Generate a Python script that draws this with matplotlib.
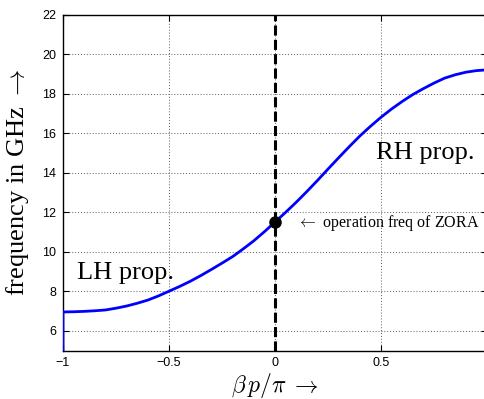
import numpy as np
import matplotlib
matplotlib.use("Agg")
import matplotlib.pyplot as plt

plt.rcParams["mathtext.fontset"] = "cm"

# dispersion curve
beta_p = [-1.0, -0.95, -0.9, -0.85, -0.8, -0.75, -0.7, -0.65, -0.6, -0.55,
          -0.5, -0.45, -0.4, -0.35, -0.3, -0.25, -0.2, -0.15, -0.1, -0.05,
          0.0, 0.05, 0.1, 0.15, 0.2, 0.25, 0.3, 0.35, 0.4, 0.45,
          0.5, 0.55, 0.6, 0.65, 0.7, 0.75, 0.8, 0.85, 0.9, 0.95, 1.0]
freq = [6.95, 6.96, 6.98, 7.01, 7.05, 7.14, 7.25, 7.39, 7.55, 7.76,
        8.0, 8.24, 8.5, 8.79, 9.1, 9.42, 9.75, 10.14, 10.55, 11.01,
        11.5, 11.99, 12.5, 13.04, 13.6, 14.18, 14.75, 15.31, 15.85, 16.34,
        16.8, 17.22, 17.6, 17.95, 18.25, 18.53, 18.78, 18.95, 19.08, 19.16, 19.2]
zora_x = 0.0
zora_f = 11.5
xticks = [-1, -0.5, 0, 0.5]
xticklabels = ["\u22121", "\u22120.5", "0", "0.5"]
yticks = [6, 8, 10, 12, 14, 16, 18, 20, 22]

fig = plt.figure(figsize=(4.84, 3.99), dpi=100)
ax = fig.add_axes([63 / 484, 48.5 / 399, 424 / 484, 336 / 399])

# curve plus the vertical part at the left border
ax.plot([beta_p[0]] + beta_p, [5] + freq, color=(0, 0, 1), linewidth=2.0, zorder=3)
ax.axvline(zora_x, color="black", linewidth=2.2, dashes=(3.3, 1.4), zorder=2)
ax.plot(zora_x, zora_f, "o", color="black", markersize=8, zorder=4)

ax.set_xlim(-1, 1)
ax.set_ylim(5, 22)
ax.set_xticks(xticks)
ax.set_xticklabels(xticklabels)
ax.set_yticks(yticks)
ax.tick_params(direction="in", length=4, width=0.8, top=True, right=True,
               labelsize=9, pad=5)
for lab in ax.get_xticklabels() + ax.get_yticklabels():
    lab.set_family("Liberation Sans")
ax.grid(True, color="0.35", linestyle=(0, (1, 2)), linewidth=0.7)
for s in ax.spines.values():
    s.set_linewidth(1.0)

ax.set_xlabel(r"$\beta\,p/\pi\;\rightarrow$", fontsize=17)
ax.xaxis.set_label_coords(0.5, -0.06)
ax.set_ylabel(r"frequency in GHz $\rightarrow$", fontsize=19,
              family="Liberation Serif")
ax.yaxis.set_label_coords(-0.075, 0.5)

ax.text(-0.934, 8.6, "LH prop.", fontsize=19, family="Liberation Serif",
        ha="left", va="baseline")
ax.text(0.476, 14.69, "RH prop.", fontsize=19, family="Liberation Serif",
        ha="left", va="baseline")
ax.text(0.105, 11.27, r"$\leftarrow$ operation freq of ZORA", fontsize=11.5,
        family="Liberation Serif", ha="left", va="baseline")

fig.savefig("out.png", dpi=100)
